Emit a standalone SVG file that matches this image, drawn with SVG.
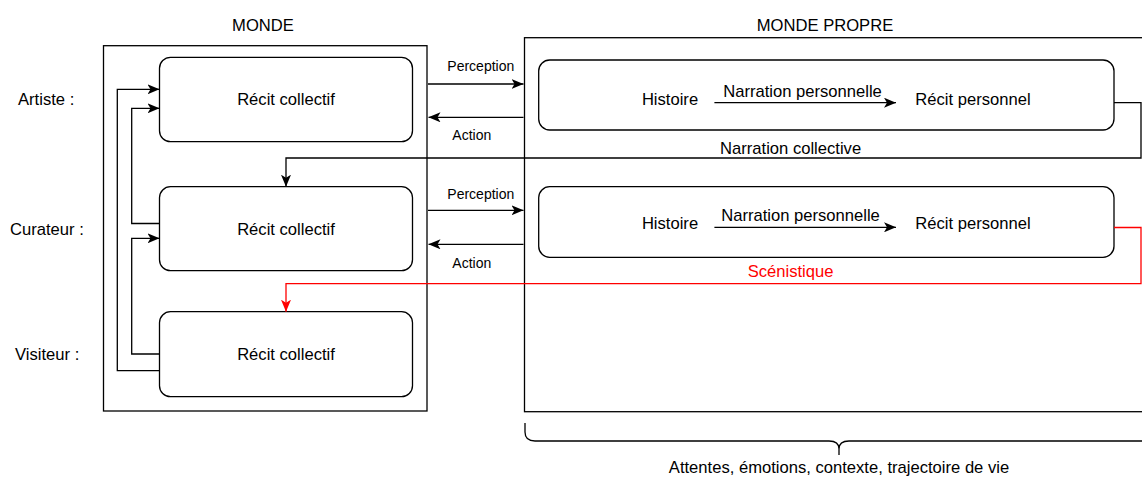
<svg xmlns="http://www.w3.org/2000/svg" width="1142" height="477" viewBox="0 0 1142 477">
<style>
.frame{fill:#fff;stroke:#000;stroke-width:1.3}
.node{fill:#fff;stroke:#000;stroke-width:1.3}
.t{font-family:"Liberation Sans",Arial,sans-serif;font-size:16.6px;fill:#000}
.c{text-anchor:middle}
.s{font-size:14px}
.red{fill:#ff0000}
.edge{fill:none;stroke:#000;stroke-width:1.3}
.edge-red{fill:none;stroke:#ff0000;stroke-width:1.3}
</style>
<defs>
<marker id="ah" markerUnits="userSpaceOnUse" viewBox="0 0 12 10" refX="12" refY="5" markerWidth="12" markerHeight="10" orient="auto">
<path d="M0,0 L12,5 L0,10 L3,5 Z" fill="#000"/>
</marker>
<marker id="ahr" markerUnits="userSpaceOnUse" viewBox="0 0 12 10" refX="12" refY="5" markerWidth="12" markerHeight="10" orient="auto">
<path d="M0,0 L12,5 L0,10 L3,5 Z" fill="#ff0000"/>
</marker>
</defs>
<rect width="1142" height="477" fill="#fff"/>

<g id="monde">
<rect class="frame" x="103.5" y="45.7" width="323.5" height="365.3"/>
<text class="t c" x="263" y="30.5">MONDE</text>
</g>
<g id="monde-propre">
<rect class="frame" x="524.5" y="37.7" width="700" height="374"/>
<text class="t c" x="825" y="30.5">MONDE PROPRE</text>
</g>

<g id="label-artiste"><text class="t" x="18" y="105">Artiste :</text></g>
<g id="label-curateur"><text class="t" x="10" y="235">Curateur :</text></g>
<g id="label-visiteur"><text class="t" x="15" y="360">Visiteur :</text></g>

<g id="recit-collectif-artiste">
<rect class="node" x="159.5" y="57.3" width="253" height="84.4" rx="11" ry="11"/>
<text class="t c" x="286" y="105">Récit collectif</text>
</g>
<g id="recit-collectif-curateur">
<rect class="node" x="159.5" y="186.7" width="253" height="84" rx="11" ry="11"/>
<text class="t c" x="286" y="235">Récit collectif</text>
</g>
<g id="recit-collectif-visiteur">
<rect class="node" x="159.5" y="311.7" width="253" height="85" rx="11" ry="11"/>
<text class="t c" x="286" y="360">Récit collectif</text>
</g>

<g id="monde-propre-artiste">
<rect class="node" x="538.7" y="60" width="575.3" height="70" rx="11" ry="11"/>
<text class="t c" x="670" y="105">Histoire</text>
<text class="t c" x="973" y="105">Récit personnel</text>
</g>
<g id="monde-propre-curateur">
<rect class="node" x="538.7" y="186.7" width="575.3" height="70.6" rx="11" ry="11"/>
<text class="t c" x="670" y="229">Histoire</text>
<text class="t c" x="973" y="229">Récit personnel</text>
</g>

<g id="connectors">
<path class="edge" d="M714.4,102.7 H896" marker-end="url(#ah)"/>
<text class="t c" x="802.5" y="96.5">Narration personnelle</text>
<path class="edge" d="M714.4,227.3 H896" marker-end="url(#ah)"/>
<text class="t c" x="800.5" y="220.5">Narration personnelle</text>

<path class="edge" d="M428,84 H523.5" marker-end="url(#ah)"/>
<text class="t c s" x="480.8" y="71">Perception</text>
<path class="edge" d="M523.5,117.3 H428.5" marker-end="url(#ah)"/>
<text class="t c s" x="471.8" y="140">Action</text>
<path class="edge" d="M428,210.3 H523.5" marker-end="url(#ah)"/>
<text class="t c s" x="480.8" y="199">Perception</text>
<path class="edge" d="M523.5,244.3 H428.5" marker-end="url(#ah)"/>
<text class="t c s" x="471.8" y="268">Action</text>

<path class="edge" d="M1114,102.7 H1141 V158 H286 V186.7" marker-end="url(#ah)"/>
<text class="t c" x="790.6" y="154">Narration collective</text>
<path class="edge-red" d="M1114,227.5 H1141 V283.7 H286 V311.7" marker-end="url(#ahr)"/>
<text class="t c red" x="790.6" y="277">Scénistique</text>

<path class="edge" d="M159.5,370.7 H117.3 V89.3 H159.5" marker-end="url(#ah)"/>
<path class="edge" d="M159.5,223.5 H131.7 V108.3 H159.5" marker-end="url(#ah)"/>
<path class="edge" d="M159.5,354 H131.7 V238.3 H159.5" marker-end="url(#ah)"/>
</g>

<g id="brace">
<path class="edge" d="M525,423 V432 Q525,441 535,441 H829 Q839,441 839,449 V455 M839,449 Q839,441 849,441 H1144 Q1154,441 1154,432 V423"/>
<text class="t c" x="839" y="472.5">Attentes, émotions, contexte, trajectoire de vie</text>
</g>
</svg>
